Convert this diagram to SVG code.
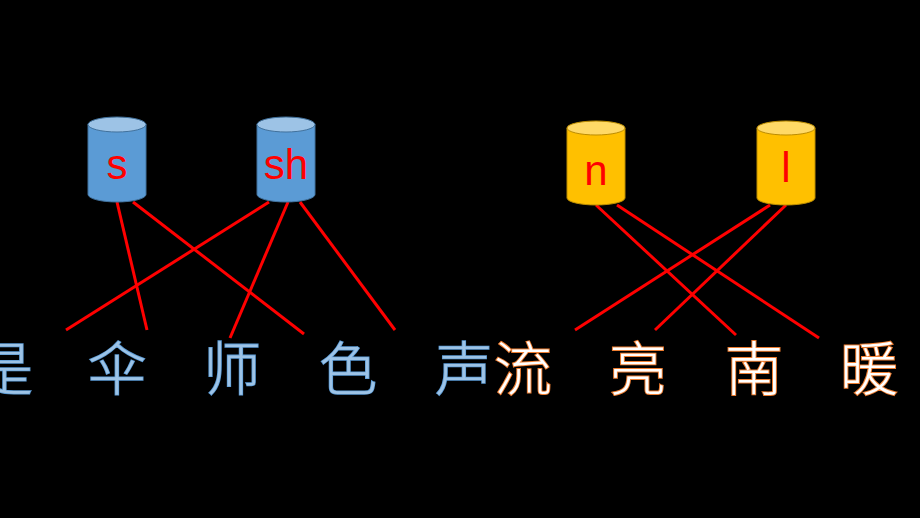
<svg xmlns="http://www.w3.org/2000/svg" width="920" height="518" viewBox="0 0 920 518">
<style>
.lbl{font-family:"Liberation Sans","Open Sans",sans-serif;font-size:42px;fill:#FF0000;text-anchor:middle}
.b-body{fill:#5B9BD5;stroke:#41719C;stroke-width:1}
.b-top{fill:#9DC3E6;stroke:#41719C;stroke-width:1}
.y-body{fill:#FFC000;stroke:#BC8C00;stroke-width:1}
.y-top{fill:#FFD966;stroke:#BC8C00;stroke-width:1}
.con line{stroke:#FF0000;stroke-width:3}
.cj{font-family:"Noto Sans CJK SC","Noto Sans CJK JP",sans-serif;font-size:58px;font-weight:300;text-anchor:middle}
.bc{fill:#9DC3E6;stroke:#5B9BD5;stroke-width:1.6;paint-order:stroke}
.oc{fill:#FFFFFF;stroke:#ED7D31;stroke-width:2;paint-order:stroke}
</style>
<rect x="0" y="0" width="920" height="518" fill="#000000"/>
<g id="connectors" class="con">
<line x1="117" y1="202" x2="147" y2="330"/>
<line x1="133" y1="202" x2="304" y2="334"/>
<line x1="269" y1="202" x2="66" y2="330"/>
<line x1="288" y1="202" x2="230" y2="338"/>
<line x1="300" y1="202" x2="395" y2="330"/>
<line x1="596" y1="205" x2="736" y2="335"/>
<line x1="617" y1="205" x2="819" y2="338"/>
<line x1="770" y1="205" x2="575" y2="330"/>
<line x1="786" y1="205" x2="655" y2="330"/>
</g>
<g id="node-s">
<path class="b-body" d="M88,124.5 V194.5 A29,7.5 0 0 0 146,194.5 V124.5 Z"/>
<ellipse class="b-top" cx="117" cy="124.5" rx="29" ry="7.5"/>
<text class="lbl" x="117" y="179">s</text>
</g>
<g id="node-sh">
<path class="b-body" d="M257,124.5 V194.5 A29,7.5 0 0 0 315,194.5 V124.5 Z"/>
<ellipse class="b-top" cx="286" cy="124.5" rx="29" ry="7.5"/>
<text class="lbl" x="286" y="179">sh</text>
</g>
<g id="node-n">
<path class="y-body" d="M567,128 V198 A29,7 0 0 0 625,198 V128 Z"/>
<ellipse class="y-top" cx="596" cy="128" rx="29" ry="7"/>
<text class="lbl" x="596" y="185">n</text>
</g>
<g id="node-l">
<path class="y-body" d="M757,128 V198 A29,7 0 0 0 815,198 V128 Z"/>
<ellipse class="y-top" cx="786" cy="128" rx="29" ry="7"/>
<text class="lbl" x="786" y="182">l</text>
</g>
<g id="chars-blue" class="cj bc">
<text x="4" y="390">是</text>
<text x="117" y="390">伞</text>
<text x="232" y="390">师</text>
<text x="348" y="390">色</text>
<text x="464" y="390">声</text>
</g>
<g id="chars-orange" class="cj oc">
<text x="523" y="390">流</text>
<text x="638" y="390">亮</text>
<text x="754" y="390">南</text>
<text x="869" y="390">暖</text>
</g>
</svg>
